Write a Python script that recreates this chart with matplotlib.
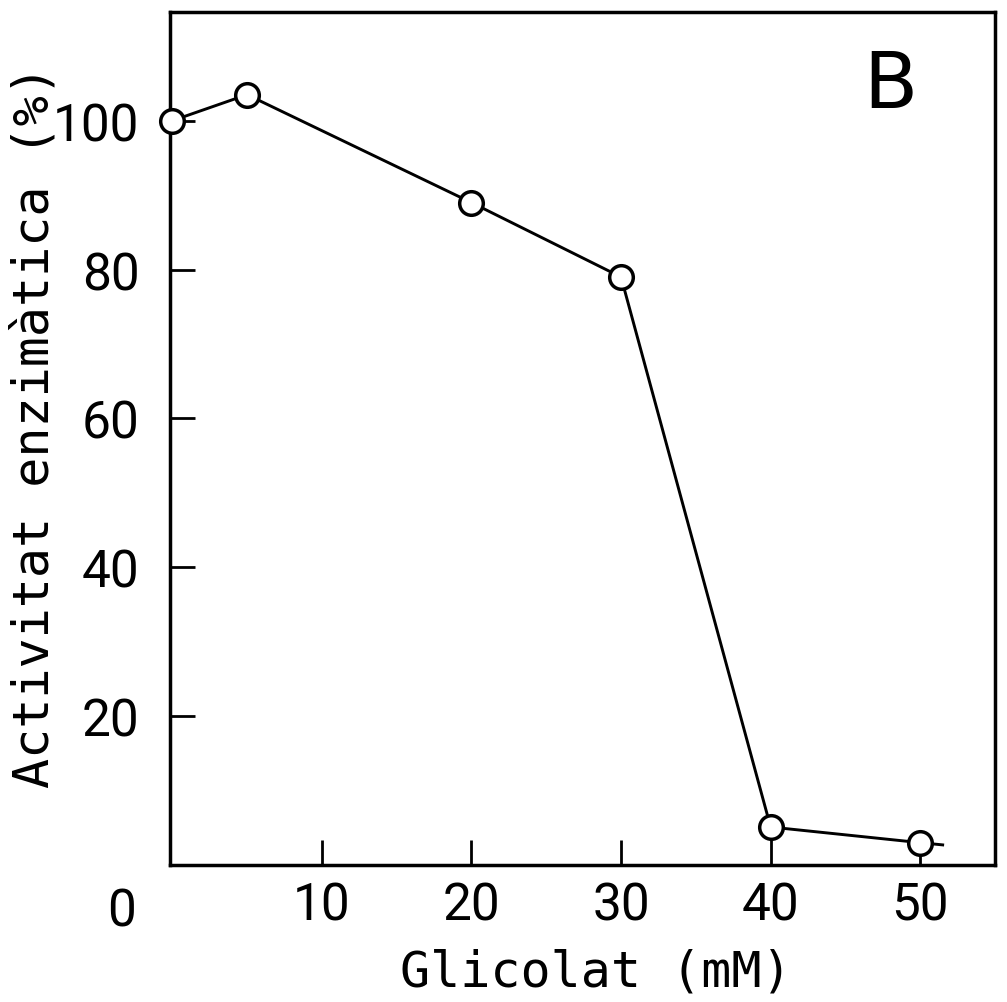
import matplotlib.pyplot as plt

# Datos
glicolat = [0, 5, 20, 30, 40, 50]
activitat = [100, 103.5, 89, 79, 5.1, 3.0]
cua_x = [50, 51.5]
cua_y = [3.0, 2.7]

xticks = [10, 20, 30, 40, 50]
yticks = [20, 40, 60, 80, 100]

plt.rcParams['font.family'] = ['Roboto', 'DejaVu Sans']

fig = plt.figure(figsize=(10.07, 10.03), dpi=100)
ax = fig.add_axes([0.1688, 0.1366, 0.8193, 0.8504])

ax.plot(cua_x, cua_y, color='black', lw=2.1, zorder=2)
ax.plot(glicolat, activitat, color='black', lw=2.1, marker='o', ms=17,
        mfc='white', mec='black', mew=2.5, clip_on=False, zorder=3)

ax.set_xlim(-0.15, 55)
ax.set_ylim(0, 114.6)
ax.set_xticks(xticks)
ax.set_yticks(yticks)
ax.tick_params(direction='in', length=18, width=2, labelsize=37)
ax.tick_params(axis='x', pad=11)
ax.tick_params(axis='y', pad=22)
for s in ax.spines.values():
    s.set_linewidth(2.5)

ax.text(-0.0585, -0.054, '0', transform=ax.transAxes, fontsize=37,
        ha='center', va='center')
ax.text(0.873, 0.914, 'B', transform=ax.transAxes, fontsize=57,
        family='DejaVu Sans', ha='center', va='center')

ax.set_xlabel('Glicolat (mM)', fontsize=36, family='DejaVu Sans Mono', va='center')
ax.xaxis.set_label_coords(0.516, -0.125)
ax.set_ylabel('Activitat enzimàtica (%)', fontsize=36, family='DejaVu Sans Mono',
              va='center')
ax.yaxis.set_label_coords(-0.164, 0.515)

fig.savefig('out.png', dpi=100)
